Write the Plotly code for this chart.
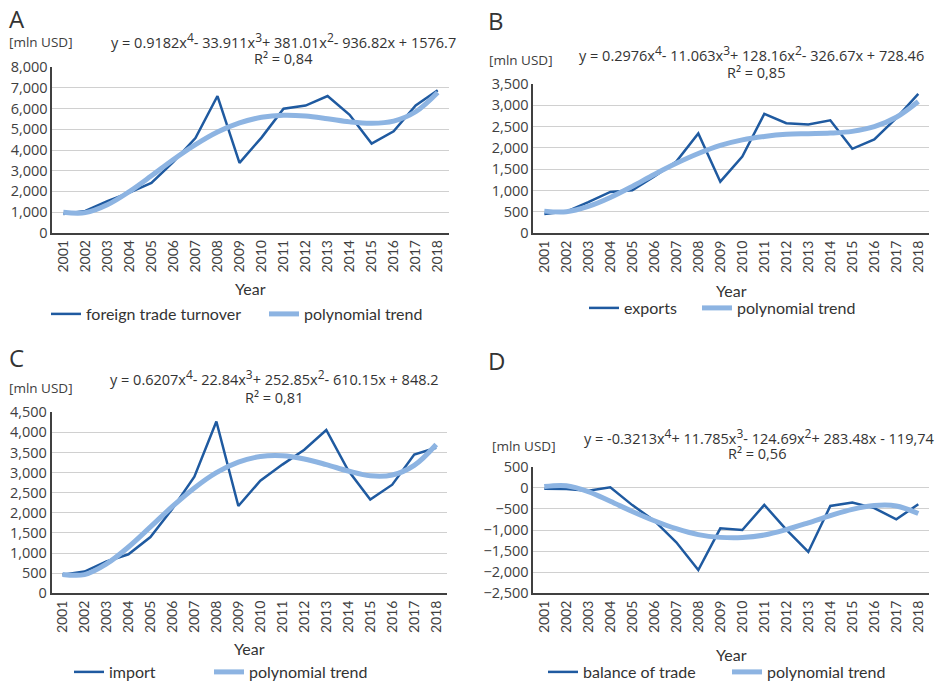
import plotly.graph_objects as go

W, H = 945, 683

years = list(range(2001, 2019))
year_labels = [str(y) for y in years]

# Foreign trade turnover [mln USD]
turnover = [910, 1050, 1520, 1940, 2410, 3430, 4580, 6610, 3380, 4600,
            6000, 6150, 6610, 5700, 4310, 4900, 6150, 6890]
turnover_trend = [990, 970, 1350, 1990, 2750, 3540, 4260, 4870, 5310, 5580,
                  5680, 5640, 5510, 5360, 5290, 5400, 5850, 6780]

# Exports [mln USD]
exports = [450, 510, 730, 970, 1010, 1330, 1680, 2340, 1210, 1800,
           2800, 2580, 2550, 2650, 1980, 2200, 2700, 3270]
exports_trend = [520, 505, 630, 840, 1100, 1380, 1640, 1870, 2060, 2190,
                 2270, 2320, 2335, 2350, 2390, 2500, 2720, 3090]

# Import [mln USD]
imports = [460, 540, 790, 970, 1400, 2100, 2900, 4270, 2170, 2800,
           3200, 3570, 4060, 3050, 2330, 2700, 3450, 3620]
imports_trend = [470, 465, 730, 1150, 1650, 2160, 2620, 3000, 3260, 3400,
                 3420, 3340, 3200, 3040, 2920, 2940, 3180, 3700]

# Balance of trade [mln USD]
balance = [-20, -30, -70, 10, -410, -780, -1290, -1950, -960, -1000,
           -405, -990, -1520, -430, -350, -480, -745, -390]
balance_trend = [30, 50, -90, -320, -560, -780, -970, -1110, -1175, -1180,
                 -1120, -990, -830, -660, -510, -420, -430, -610]


def sup(n):
    return "<sup><span style='font-size:12px'>%s</span></sup>" % n


panels = [
    dict(letter="A", name="foreign trade turnover", data=turnover, trend=turnover_trend,
         eq="y = 0.9182x" + sup(4) + "- 33.911x" + sup(3) + "+ 381.01x" + sup(2) + "- 936.82x + 1576.7",
         r2="R² = 0,84", yrange=[0, 8000], dtick=1000,
         box=(52.3, 448.7, 67.3, 232.7), letter_xy=(7, 19), unit_xy=(7, 42),
         eq_xy=(283, 40), r2_xy=(283, 58), year_y=288, leg_y=314, leg_x=(52, 270)),
    dict(letter="B", name="exports", data=exports, trend=exports_trend,
         eq="y = 0.2976x" + sup(4) + "- 11.063x" + sup(3) + "+ 128.16x" + sup(2) + "- 326.67x + 728.46",
         r2="R² = 0,85", yrange=[0, 3500], dtick=500,
         box=(533.3, 929.3, 84.0, 233.3), letter_xy=(486, 20), unit_xy=(487, 60),
         eq_xy=(751, 54), r2_xy=(756, 72), year_y=290, leg_y=308, leg_x=(590, 703)),
    dict(letter="C", name="import", data=imports, trend=imports_trend,
         eq="y = 0.6207x" + sup(4) + "- 22.84x" + sup(3) + "+ 252.85x" + sup(2) + "- 610.15x + 848.2",
         r2="R² = 0,81", yrange=[0, 4500], dtick=500,
         box=(51.5, 447.2, 412.3, 593.3), letter_xy=(7, 357), unit_xy=(7, 388),
         eq_xy=(274, 377), r2_xy=(274, 397), year_y=648, leg_y=672, leg_x=(75, 215)),
    dict(letter="D", name="balance of trade", data=balance, trend=balance_trend,
         eq="y = -0.3213x" + sup(4) + "+ 11.785x" + sup(3) + "- 124.69x" + sup(2) + "+ 283.48x - 119,74",
         r2="R² = 0,56", yrange=[-2500, 500], dtick=500,
         box=(533.3, 929.3, 466.7, 593.3), letter_xy=(486, 360), unit_xy=(490, 446),
         eq_xy=(759, 436), r2_xy=(757, 453), year_y=654, leg_y=672, leg_x=(549, 733)),
]

DATA_COLOR = "#1f5aa0"
TREND_COLOR = "#8db4e2"
TICK_FONT = dict(family="Open Sans", size=14.5, color="#404040")
GEO_FONT = "Lato"

fig = go.Figure()
layout = dict(width=W, height=H,
              margin=dict(l=0, r=0, t=0, b=0, autoexpand=False),
              paper_bgcolor="white", plot_bgcolor="white", showlegend=True)
annotations = []


def px(x):
    return x / W


def py(y):
    return 1 - y / H


def legend_box(x_sample, y_mid):
    # one legend entry: line sample starts ~6px right of the legend's left edge
    return dict(orientation="h", x=px(x_sample - 6), y=py(y_mid),
                xanchor="left", yanchor="middle",
                font=dict(family=GEO_FONT, size=16, color="#333333"),
                bgcolor="rgba(0,0,0,0)", itemwidth=30)


for i, p in enumerate(panels):
    k = "" if i == 0 else str(i + 1)
    xa, ya = "x" + k, "y" + k
    leg_data = "legend" if i == 0 else "legend" + str(i + 1)
    leg_trend = "legend" + str(i + 5)
    x0, x1, y0, y1 = p["box"]

    fig.add_trace(go.Scatter(
        x=years, y=p["data"], mode="lines", name=p["name"],
        line=dict(color=DATA_COLOR, width=2.5),
        xaxis=xa, yaxis=ya, legend=leg_data))
    fig.add_trace(go.Scatter(
        x=years, y=p["trend"], mode="lines", name="polynomial trend",
        line=dict(color=TREND_COLOR, width=5, shape="spline", smoothing=1.0),
        xaxis=xa, yaxis=ya, legend=leg_trend))

    layout["xaxis" + k] = dict(
        domain=[px(x0), px(x1)], anchor=ya, range=[2000.5, 2018.5],
        tickmode="array", tickvals=years, ticktext=year_labels, tickangle=-90,
        tickfont=dict(family=GEO_FONT, size=14, color="#404040"),
        showgrid=False, zeroline=False, showline=True, linecolor="#404040",
        linewidth=1.5, ticks="", fixedrange=True)
    layout["yaxis" + k] = dict(
        domain=[py(y1), py(y0)], anchor=xa, range=p["yrange"], dtick=p["dtick"],
        tickformat=",d", tickfont=TICK_FONT, showgrid=True, gridcolor="#d0d0d0",
        gridwidth=1, zeroline=False, showline=True, linecolor="#404040",
        linewidth=1.5, ticks="", fixedrange=True)
    layout[leg_data] = legend_box(p["leg_x"][0], p["leg_y"])
    layout[leg_trend] = legend_box(p["leg_x"][1], p["leg_y"])

    cx = (x0 + x1) / 2
    annotations += [
        dict(text=p["letter"], x=px(p["letter_xy"][0]), y=py(p["letter_xy"][1]),
             xref="paper", yref="paper", xanchor="left", yanchor="middle",
             showarrow=False, font=dict(family="Open Sans", size=24, color="#333333")),
        dict(text="[mln USD]", x=px(p["unit_xy"][0]), y=py(p["unit_xy"][1]),
             xref="paper", yref="paper", xanchor="left", yanchor="middle",
             showarrow=False, font=dict(family="Open Sans", size=13.5, color="#404040")),
        dict(text=p["eq"], x=px(p["eq_xy"][0]), y=py(p["eq_xy"][1]),
             xref="paper", yref="paper", xanchor="center", yanchor="middle",
             showarrow=False, font=dict(family="Open Sans", size=14.5, color="#333333")),
        dict(text=p["r2"], x=px(p["r2_xy"][0]), y=py(p["r2_xy"][1]),
             xref="paper", yref="paper", xanchor="center", yanchor="middle",
             showarrow=False, font=dict(family="Open Sans", size=14.5, color="#333333")),
        dict(text="Year", x=px(cx), y=py(p["year_y"]),
             xref="paper", yref="paper", xanchor="center", yanchor="middle",
             showarrow=False, font=dict(family=GEO_FONT, size=16, color="#333333")),
    ]

layout["annotations"] = annotations
fig.update_layout(**layout)
fig.write_html("out.html")
